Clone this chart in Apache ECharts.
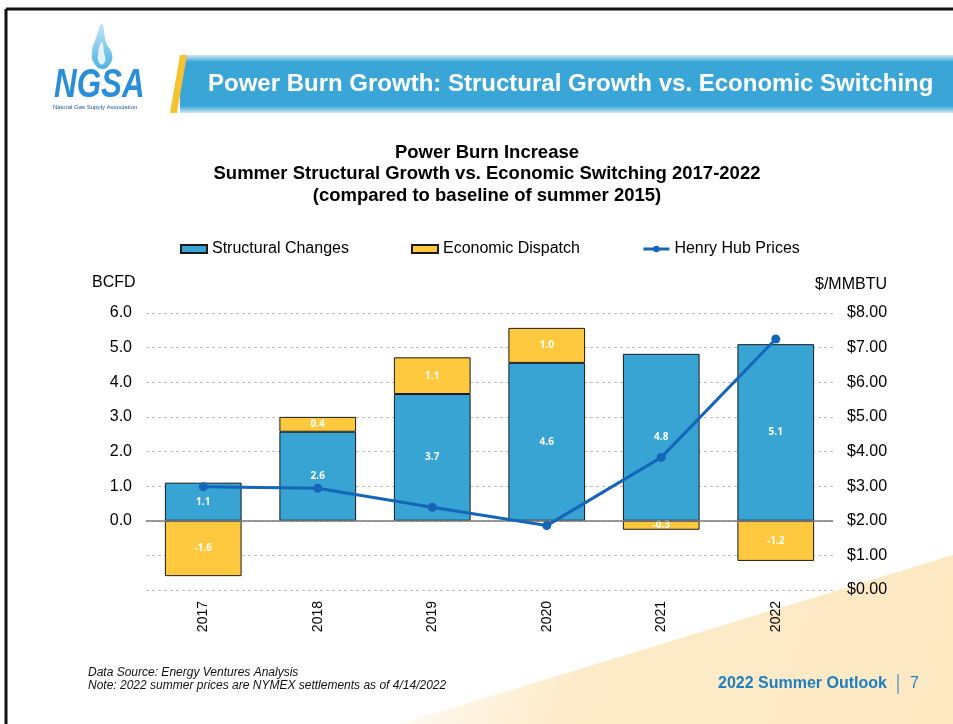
<!DOCTYPE html>
<html><head><meta charset="utf-8">
<script src="https://cdn.jsdelivr.net/npm/echarts@6/dist/echarts.min.js"></script>
<style>html,body{margin:0;padding:0;background:#fff}#c{width:953px;height:724px}</style>
</head><body><div id="c"></div>
<script>
const categories = ['2017', '2018', '2019', '2020', '2021', '2022'];
const structuralChanges = [1.1, 2.57, 3.66, 4.56, 4.82, 5.1];
const economicDispatch = [-1.6, 0.43, 1.06, 1.01, -0.26, -1.16];
const henryHubPrices = [2.98, 2.94, 2.39, 1.86, 3.83, 7.25];
const leftAxis = { min: -2, max: 6, interval: 1 };
const rightAxis = { min: 0, max: 8, interval: 1 };

const FONT = '"Liberation Sans", Arial, sans-serif';
const chart = echarts.init(document.getElementById('c'), null, { renderer: 'canvas' });

const barLabel = {
  show: true, position: 'inside', color: '#fff', fontWeight: 'bold',
  fontSize: 10, fontFamily: '"Open Sans", sans-serif',
  formatter: p => p.value.toFixed(1)
};

function txt(x, y, text, font, fill, align, extra) {
  return Object.assign({ type: 'text', x: x, y: y, silent: true,
    style: { text: text, fill: fill, font: font, textAlign: align || 'left', textVerticalAlign: 'middle' } }, extra || {});
}

chart.setOption({
  backgroundColor: '#fff',
  animation: false,
  textStyle: { fontFamily: FONT },
  title: {
    text: 'Power Burn Increase\nSummer Structural Growth vs. Economic Switching 2017-2022\n(compared to baseline of summer 2015)',
    left: 482, top: 137, textAlign: 'center',
    textStyle: { fontFamily: FONT, fontSize: 18.5, fontWeight: 'bold', color: '#000', lineHeight: 21.5 }
  },
  legend: {
    left: 175, top: 236, itemWidth: 26, itemHeight: 8, itemGap: 62,
    textStyle: { fontFamily: FONT, fontSize: 16, color: '#000' },
    data: [
      { name: 'Structural Changes', icon: 'rect' },
      { name: 'Economic Dispatch', icon: 'rect' },
      { name: 'Henry Hub Prices', lineStyle: { width: 3 } }
    ]
  },
  grid: { left: 146, right: 120, top: 313, bottom: 134 },
  xAxis: {
    type: 'category', data: categories,
    axisLine: { show: false }, axisTick: { show: false },
    axisLabel: { rotate: 90, fontSize: 14, color: '#000', margin: 11, fontFamily: FONT }
  },
  yAxis: [{
    type: 'value', min: leftAxis.min, max: leftAxis.max, interval: leftAxis.interval,
    axisLine: { show: false }, axisTick: { show: false },
    axisLabel: { fontSize: 16, color: '#000', margin: 14, fontFamily: FONT,
      formatter: v => v >= 0 ? v.toFixed(1) : '' },
    splitLine: { lineStyle: { color: '#bdbdbd', type: [3, 3], width: 1 } }
  }, {
    type: 'value', min: rightAxis.min, max: rightAxis.max, interval: rightAxis.interval,
    axisLine: { show: false }, axisTick: { show: false },
    axisLabel: { fontSize: 16, color: '#000', margin: 14, fontFamily: FONT,
      formatter: v => '$' + v.toFixed(2) },
    splitLine: { show: false }
  }],
  series: [{
    name: 'Structural Changes', type: 'bar', stack: 'burn', barWidth: '67%',
    data: structuralChanges,
    itemStyle: { color: '#38a4d4', borderColor: '#1a1a1a', borderWidth: 1 },
    label: barLabel,
    markLine: {
      silent: true, symbol: 'none', label: { show: false },
      lineStyle: { color: '#7a7a7a', type: 'solid', width: 1.5 },
      data: [{ yAxis: 0 }]
    }
  }, {
    name: 'Economic Dispatch', type: 'bar', stack: 'burn', barWidth: '67%',
    data: economicDispatch,
    itemStyle: { color: '#fec93f', borderColor: '#1a1a1a', borderWidth: 1 },
    label: barLabel
  }, {
    name: 'Henry Hub Prices', type: 'line', yAxisIndex: 1, z: 5,
    data: henryHubPrices,
    symbol: 'circle', symbolSize: 9,
    itemStyle: { color: '#1565b8' },
    lineStyle: { color: '#1565b8', width: 3 }
  }],
  graphic: [
    { type: 'polygon', z: -10, silent: true,
      shape: { points: [[400, 724], [953, 555], [953, 724]] },
      style: { fill: new echarts.graphic.LinearGradient(0, 0, 1, 1, [
        { offset: 0, color: 'rgba(253,233,195,0)' },
        { offset: 0.35, color: 'rgba(253,233,195,0.9)' },
        { offset: 1, color: '#fde8c2' }]) } },
    { type: 'line', silent: true, shape: { x1: 6, y1: 9, x2: 953, y2: 9 }, style: { stroke: '#111', lineWidth: 3 } },
    { type: 'line', silent: true, shape: { x1: 6, y1: 9, x2: 6, y2: 724 }, style: { stroke: '#111', lineWidth: 3 } },
    { type: 'rect', silent: true, shape: { x: 180, y: 55, width: 773, height: 58 },
      style: { fill: new echarts.graphic.LinearGradient(0, 0, 0, 1, [
        { offset: 0, color: 'rgba(58,166,216,0.25)' },
        { offset: 0.12, color: '#3aa6d8' },
        { offset: 0.88, color: '#3aa6d8' },
        { offset: 1, color: 'rgba(58,166,216,0.25)' }]) } },
    { type: 'polygon', silent: true, shape: { points: [[170, 113], [180, 55], [187, 55], [177, 113]] },
      style: { fill: '#f6c232' } },
    txt(208, 84, 'Power Burn Growth: Structural Growth vs. Economic Switching', 'bold 24px "Liberation Sans", Arial, sans-serif', '#fff'),
    { type: 'polygon', silent: true,
      shape: { smooth: 0.5, points: [[102, 24], [96, 38], [92, 52], [94, 63], [102, 69], [110, 64], [112, 54], [106, 42]] },
      style: { fill: new echarts.graphic.LinearGradient(0, 0, 0, 1, [
        { offset: 0, color: '#bfe6f7' }, { offset: 1, color: '#4fb3e3' }]) } },
    { type: 'polygon', silent: true,
      shape: { smooth: 0.5, points: [[102, 42], [98, 54], [100, 64], [105, 62], [104, 52]] },
      style: { fill: '#ffffff', opacity: 0.8 } },
    txt(54, 86, 'NGSA', 'italic bold 32px "Liberation Sans", Arial, sans-serif', '#2a8fd6', 'left',
      { scaleY: 1.25, scaleX: 0.98, originX: 0, originY: 0 }),
    txt(53, 107, 'Natural Gas Supply Association', '6px "Liberation Sans", Arial, sans-serif', '#1a5fa0'),
    txt(92, 283, 'BCFD', '16px "Liberation Sans", Arial, sans-serif', '#000'),
    txt(887, 285, '$/MMBTU', '16px "Liberation Sans", Arial, sans-serif', '#000', 'right'),
    txt(88, 673, 'Data Source: Energy Ventures Analysis', 'italic 12px "Liberation Sans", Arial, sans-serif', '#111'),
    txt(88, 686, 'Note: 2022 summer prices are NYMEX settlements as of 4/14/2022', 'italic 12px "Liberation Sans", Arial, sans-serif', '#111'),
    txt(718, 684, '2022 Summer Outlook', 'bold 16px "Liberation Sans", Arial, sans-serif', '#1b7fc4'),
    { type: 'line', silent: true, shape: { x1: 898, y1: 674, x2: 898, y2: 694 }, style: { stroke: '#1b7fc4', lineWidth: 1 } },
    txt(910, 684, '7', '16px "Liberation Sans", Arial, sans-serif', '#1b7fc4')
  ]
});
</script></body></html>
